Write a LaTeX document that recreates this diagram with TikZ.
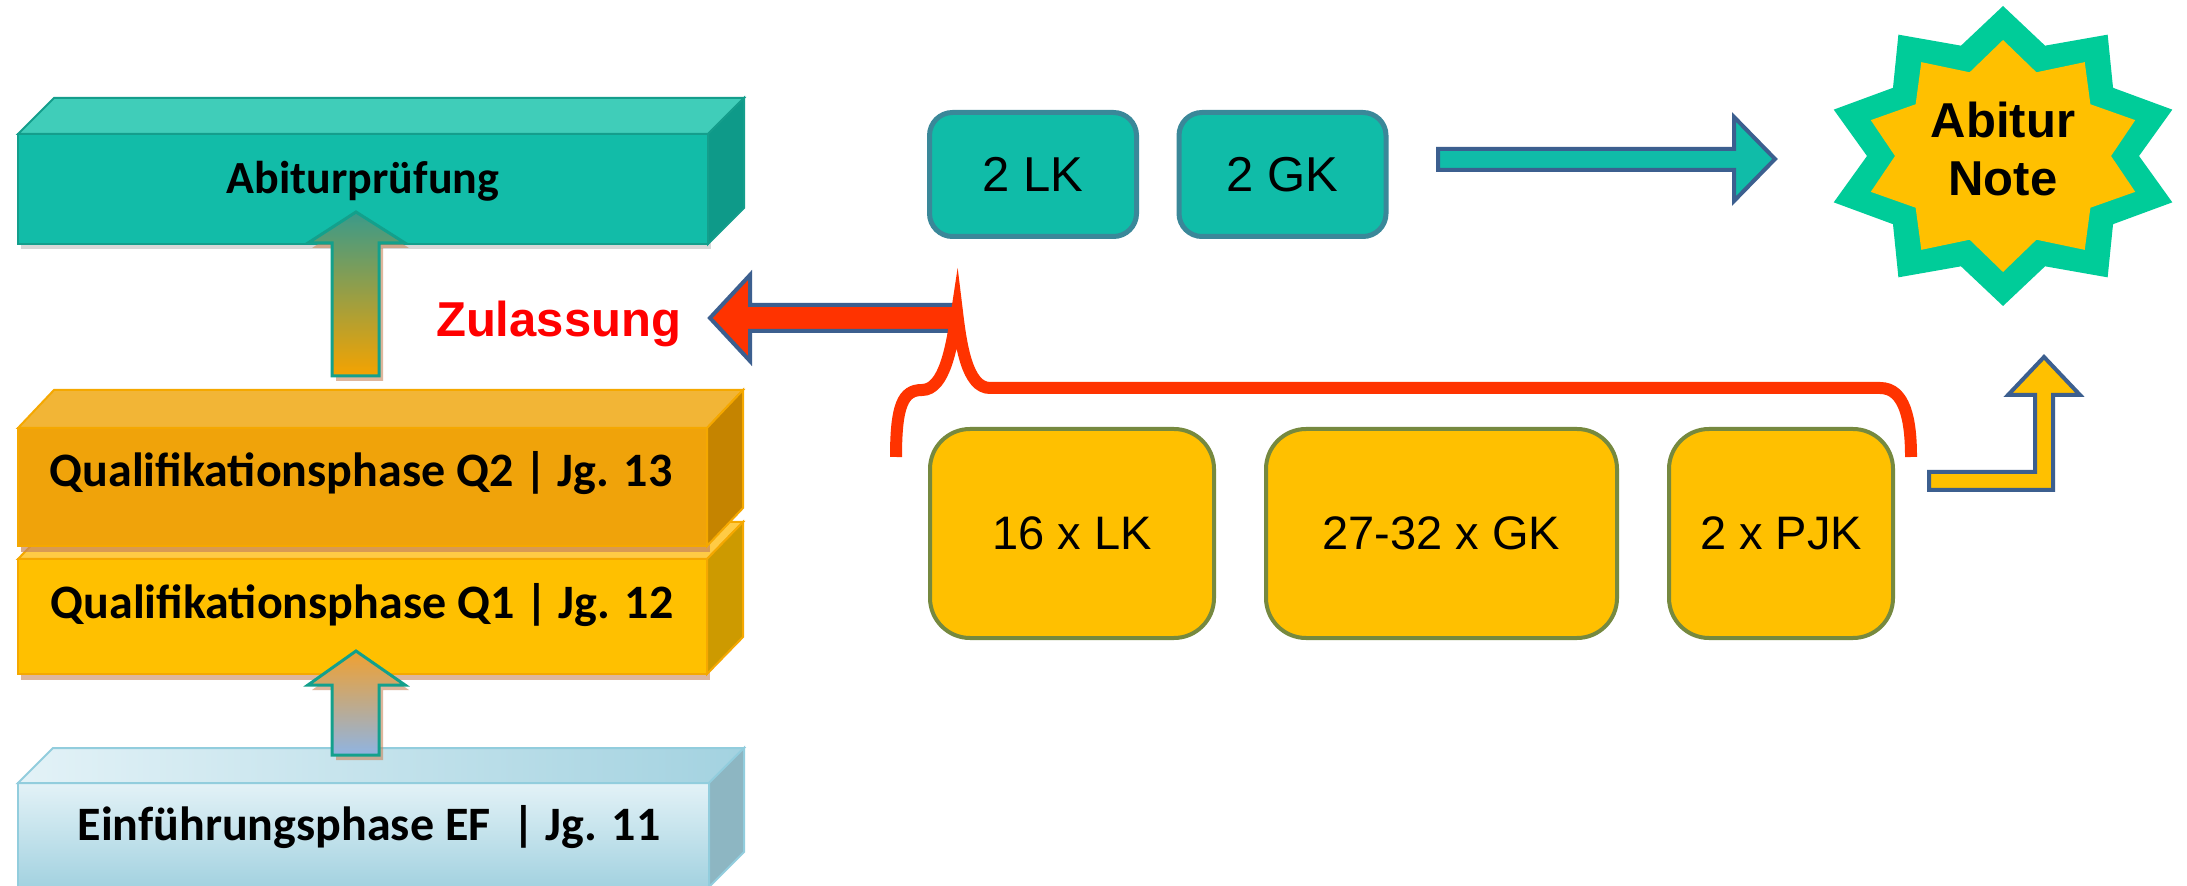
\documentclass[tikz,border=0pt]{standalone}
\usepackage{fontspec}
\setmainfont{Carlito}
\newfontfamily\arial{Liberation Sans}
\usetikzlibrary{shadows}

\definecolor{abifront}{HTML}{12BCA8}
\definecolor{abitop}{HTML}{40CDB9}
\definecolor{abiside}{HTML}{0E9A89}
\definecolor{abiedge}{HTML}{149E8C}
\definecolor{qzfront}{HTML}{F0A30A}
\definecolor{qztop}{HTML}{F2B536}
\definecolor{qzside}{HTML}{C58400}
\definecolor{qefront}{HTML}{FFC000}
\definecolor{qetop}{HTML}{FFCB45}
\definecolor{qeside}{HTML}{CD9A00}
\definecolor{qedge}{HTML}{F5A800}
\definecolor{eflight}{HTML}{E3F2F7}
\definecolor{efdark}{HTML}{A3D2E0}
\definecolor{efside}{HTML}{8DB6C2}
\definecolor{efedge}{HTML}{92CDDD}
\definecolor{arrowedge}{HTML}{13A08C}
\definecolor{arrowteal}{HTML}{3A9A8A}
\definecolor{arroworange}{HTML}{F5A300}
\definecolor{arrowamber}{HTML}{F0A030}
\definecolor{arrowblue}{HTML}{8FB4E2}
\definecolor{blueedge}{HTML}{3C5F8F}
\definecolor{zulred}{HTML}{FF0000}
\definecolor{bracered}{HTML}{FF3300}
\definecolor{kursteal}{HTML}{10BCA8}
\definecolor{kursedge}{HTML}{3A8899}
\definecolor{blockyellow}{HTML}{FFC000}
\definecolor{blockedge}{HTML}{76893F}
\definecolor{stargreen}{HTML}{00CC99}
\definecolor{shadowbrown}{HTML}{C8865A}

\tikzset{
  face/.style={inner sep=0pt, outer sep=0pt, line width=1pt},
  phase/.style={font=\fontsize{24}{29}\selectfont\bfseries, anchor=base},
  kurs/.style={rounded corners=11.5pt, draw=kursedge, line width=2.5pt, fill=kursteal,
    minimum width=103.5pt, minimum height=62pt, font=\arial\fontsize{24.5}{29}\selectfont},
  block/.style={rounded corners=20pt, draw=blockedge, line width=2pt, fill=blockyellow,
    minimum height=104.5pt, font=\arial\fontsize{23.5}{28}\selectfont},
  blockarrow/.style={draw=blueedge, line width=2pt},
  brace/.style={draw=bracered, line width=6pt}
}

\begin{document}
\begin{tikzpicture}[x=0.5pt,y=-0.5pt]
\useasboundingbox (0,0) rectangle (2187,886);
\clip (0,0) rectangle (2187,886);
\fill[white] (0,0) rectangle (2187,886);

% Abiturpruefung
\node[face, fill=abifront, draw=abiedge, minimum width=345pt, minimum height=55pt,
  drop shadow={shadow xshift=1.5pt, shadow yshift=-2.5pt, opacity=.3}] (abi) at (363,189) {};
\filldraw[fill=abitop, draw=abiedge, line width=1pt] (abi.north west) -- ++(36,-36) -- ([shift={(36,-36)}]abi.north east) -- (abi.north east) -- cycle;
\filldraw[fill=abiside, draw=abiedge, line width=1pt] (abi.north east) -- ++(36,-36) -- ([shift={(36,-36)}]abi.south east) -- (abi.south east) -- cycle;
\node[phase, font=\fontsize{23}{28}\selectfont\bfseries] (abi label) at (363,194) {Abiturprüfung};

% Q1
\node[face, fill=qefront, draw=qedge, minimum width=344.5pt, minimum height=57.5pt,
  drop shadow={shadow xshift=1.5pt, shadow yshift=-3pt, fill=shadowbrown, opacity=.6}] (qe) at (362.5,616.5) {};
\filldraw[fill=qetop, draw=qedge, line width=1pt] (qe.north west) -- ++(36,-37) -- ([shift={(36,-37)}]qe.north east) -- (qe.north east) -- cycle;
\filldraw[fill=qeside, draw=qedge, line width=1pt] (qe.north east) -- ++(36,-37) -- ([shift={(36,-37)}]qe.south east) -- (qe.south east) -- cycle;
\node[phase] (qe label) at (362,618) {Qualifikationsphase Q1 | Jg. 12};

% Q2
\node[face, fill=qzfront, draw=qedge, minimum width=344.5pt, minimum height=59pt,
  drop shadow={shadow xshift=1.5pt, shadow yshift=-3pt, fill=shadowbrown, opacity=.7}] (qz) at (362.5,487) {};
\filldraw[fill=qztop, draw=qedge, line width=1pt] (qz.north west) -- ++(36,-38) -- ([shift={(36,-38)}]qz.north east) -- (qz.north east) -- cycle;
\filldraw[fill=qzside, draw=qedge, line width=1pt] (qz.north east) -- ++(36,-38) -- ([shift={(36,-38)}]qz.south east) -- (qz.south east) -- cycle;
\node[phase] (qz label) at (361,487) {Qualifikationsphase Q2 | Jg. 13};

% EF
\node[face, top color=eflight, bottom color=efdark, draw=efedge, minimum width=345.5pt, minimum height=52pt] (ef) at (363.5,835) {};
\shade[left color=eflight, right color=efdark, draw=efedge, line width=1pt] (ef.north west) -- ++(35,-35) -- ([shift={(35,-35)}]ef.north east) -- (ef.north east) -- cycle;
\filldraw[fill=efside, draw=efedge, line width=1pt] (ef.north east) -- ++(35,-35) -- ([shift={(35,-35)}]ef.south east) -- (ef.south east) -- cycle;
\node[phase] (ef label) at (369,840) {Einführungsphase EF \ | Jg. 11};

% Pfeile links
\shadedraw[top color=arrowteal, bottom color=arroworange, draw=arrowedge, line width=1.5pt,
  drop shadow={shadow xshift=2pt, shadow yshift=-2.5pt, fill=shadowbrown, opacity=.6}]
  (356,212) -- (405,243) -- (379,243) -- (379,376) -- (332,376) -- (332,243) -- (308,243) -- cycle;
\shadedraw[top color=arrowamber, bottom color=arrowblue, draw=arrowedge, line width=1.5pt,
  drop shadow={shadow xshift=2pt, shadow yshift=-2.5pt, fill=shadowbrown, opacity=.6}]
  (356,651) -- (405,685) -- (379,685) -- (379,755) -- (332,755) -- (332,685) -- (308,685) -- cycle;

\node[font=\arial\bfseries\fontsize{24.5}{29}\selectfont, text=zulred, anchor=base west] (zul) at (429,337) {Zulassung};

% Zulassung-Pfeil und Klammer
\filldraw[blockarrow, fill=bracered] (710,318) -- (750,275) -- (750,305) -- (957,305) -- (957,331) -- (750,331) -- (750,361) -- cycle;
\draw[brace] (896,457) .. controls (896,405) and (903,390) .. (922,390) .. controls (945,390) and (952,345) .. (957,312)
  .. controls (961,345) and (967,388) .. (990,388) -- (1880,388) .. controls (1905,388) and (1911,420) .. (1911,457);

% Kurse
\node[kurs] (lk) at (1033,174.5) {2 LK};
\node[kurs] (gk) at (1282.5,174.5) {2 GK};
\node[block, minimum width=142pt] (lks) at (1072,533.5) {16 x LK};
\node[block, minimum width=175.5pt] (gks) at (1441.5,533.5) {27-32 x GK};
\node[block, minimum width=112pt] (pjk) at (1781,533.5) {2 x PJK};

% Pfeile rechts
\filldraw[blockarrow, fill=kursteal] (1438,149) -- (1734,149) -- (1734,117) -- (1775,159) -- (1734,201) -- (1734,170) -- (1438,170) -- cycle;
\filldraw[blockarrow, fill=blockyellow] (1929,472) -- (2035,472) -- (2035,395) -- (2008,395) -- (2044,357) -- (2080,395) -- (2053,395) -- (2053,490) -- (1929,490) -- cycle;

% Stern
\begin{scope}[shift={(2003,156)}]
\fill[stargreen] (90:89pt and 75pt) \foreach \a in {108,144,...,396} { -- (\a:68pt and 58pt) -- ({\a+18}:89pt and 75pt) } -- (72:68pt and 58pt) -- cycle;
\fill[blockyellow] (90:69.5pt and 58pt) \foreach \a in {108,144,...,396} { -- (\a:54pt and 44pt) -- ({\a+18}:69.5pt and 58pt) } -- (72:54pt and 44pt) -- cycle;
\end{scope}
\node[font=\arial\bfseries\fontsize{24.5}{29}\selectfont, align=center] (note) at (2003,149) {Abitur\\Note};
\end{tikzpicture}
\end{document}
